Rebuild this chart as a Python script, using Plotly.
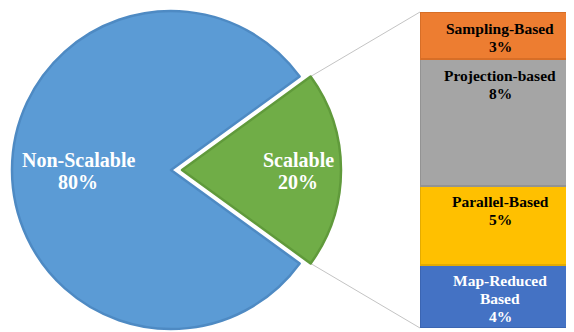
import math
import plotly.graph_objects as go

# ---------------- data ----------------
pie_labels = ["Non-Scalable", "Scalable"]
pie_values = [80, 20]
pie_colors = ["#5B9BD5", "#70AD47"]
pie_edge_colors = ["#4E8AC3", "#609A3B"]

bar_labels = ["Map-Reduced<br>Based", "Parallel-Based", "Projection-based", "Sampling-Based"]
bar_values = [4, 5, 8, 3]
bar_colors = ["#4472C4", "#FFC000", "#A5A5A5", "#ED7D31"]
bar_edge_colors = ["#3B65B2", "#E4AB00", "#939393", "#D76E27"]
bar_text_colors = ["white", "black", "black", "black"]

# ---------------- layout constants (page pixels) ----------------
PAGE_W, PAGE_H = 574, 332
BODY_MARGIN = 8                      # default page body margin
W, H = PAGE_W - BODY_MARGIN, PAGE_H - BODY_MARGIN
PIE_R = 159
PIE_CX, PIE_CY = 171, 170
PULL_PX = 11
ROTATION = 126
BAR_LEFT, BAR_RIGHT_FULL = 420, 580
BAR_TOP, BAR_BOTTOM = 12, 328
FONT = "Times New Roman, Liberation Serif, serif"


def px_x(x):
    return (x - BODY_MARGIN) / W


def px_y(y):
    return 1 - (y - BODY_MARGIN) / H


total = sum(pie_values)
angles = []
a = ROTATION
for v in pie_values:
    span = 360 * v / total
    angles.append((a, a + span))
    a += span
g0, g1 = angles[1]
gmid = math.radians((g0 + g1) / 2)
gcx = PIE_CX + PULL_PX * math.sin(gmid)
gcy = PIE_CY - PULL_PX * math.cos(gmid)

fig = go.Figure()


def pie_trace(cx, cy, show_idx):
    cols = [c if i == show_idx else "rgba(0,0,0,0)" for i, c in enumerate(pie_colors)]
    lcols = [c if i == show_idx else "rgba(0,0,0,0)" for i, c in enumerate(pie_edge_colors)]
    return go.Pie(
        labels=pie_labels, values=pie_values, sort=False, direction="clockwise",
        rotation=ROTATION, textinfo="none", hoverinfo="label+percent",
        marker=dict(colors=cols, line=dict(color=lcols, width=2.5)),
        domain=dict(x=[px_x(cx - PIE_R), px_x(cx + PIE_R)],
                    y=[px_y(cy + PIE_R), px_y(cy - PIE_R)]),
        showlegend=False,
    )


fig.add_trace(pie_trace(PIE_CX, PIE_CY, 0))
fig.add_trace(pie_trace(gcx, gcy, 1))

for lab, v, c, ec in zip(bar_labels, bar_values, bar_colors, bar_edge_colors):
    fig.add_trace(go.Bar(
        x=[0], y=[v], width=1, name=lab.replace("<br>", " "),
        marker=dict(color=c, line=dict(color=ec, width=2)),
        xaxis="x", yaxis="y", showlegend=False, hoverinfo="name+y",
    ))

bar_total = sum(bar_values)
vis_frac = (PAGE_W - BAR_LEFT) / (BAR_RIGHT_FULL - BAR_LEFT)

annotations = []
pie_label_pos = [(78, 160), (298, 160)]
for lab, v, (lx, ly) in zip(pie_labels, pie_values, pie_label_pos):
    for i, line in enumerate([lab, f"{round(100 * v / total)}%"]):
        annotations.append(dict(
            x=px_x(lx), y=px_y(ly + i * 21.5), xref="paper", yref="paper",
            text=f"<b>{line}</b>", showarrow=False, xanchor="center", yanchor="middle",
            font=dict(family=FONT, size=20, color="white"),
        ))

cum = 0
for lab, v, tc in zip(bar_labels, bar_values, bar_text_colors):
    cum += v
    lines = lab.split("<br>") + [f"{v}%"]
    for i, line in enumerate(lines):
        annotations.append(dict(
            x=0, y=cum, xref="x", yref="y", yshift=-(16 + i * 18),
            text=f"<b>{line}</b>", showarrow=False, xanchor="center", yanchor="middle",
            font=dict(family=FONT, size=15.5, color=tc),
        ))

shapes = []
for ang, by in [(g0, BAR_TOP), (g1, BAR_BOTTOM)]:
    r = math.radians(ang)
    sx = gcx + PIE_R * math.sin(r)
    sy = gcy - PIE_R * math.cos(r)
    shapes.append(dict(type="line", xref="paper", yref="paper",
                       x0=px_x(sx), y0=px_y(sy), x1=px_x(BAR_LEFT), y1=px_y(by),
                       line=dict(color="#C4C4C4", width=1), layer="below"))

fig.update_layout(
    width=W, height=H, margin=dict(l=0, r=0, t=0, b=0),
    paper_bgcolor="white", plot_bgcolor="rgba(0,0,0,0)",
    barmode="stack",
    xaxis=dict(domain=[px_x(BAR_LEFT), 1], range=[-0.5, -0.5 + vis_frac],
               visible=False, fixedrange=True),
    yaxis=dict(domain=[px_y(BAR_BOTTOM), px_y(BAR_TOP)], range=[0, bar_total],
               visible=False, fixedrange=True),
    annotations=annotations, shapes=shapes,
)

fig.write_html("out.html")
